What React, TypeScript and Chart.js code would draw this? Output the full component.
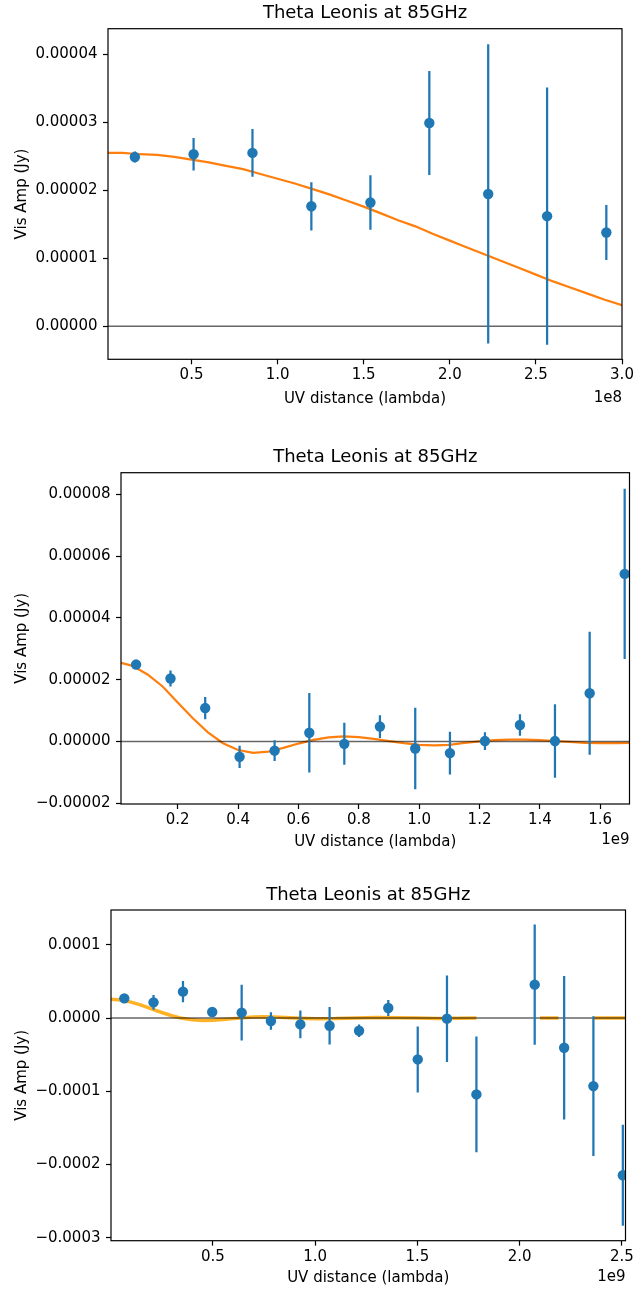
import React, { useEffect, useRef } from "react";
import { Chart, registerables } from "chart.js";

Chart.register(...registerables);

const FONT = '"DejaVu Sans", "Liberation Sans", sans-serif';
const BLUE = "#1f77b4";
const ORANGE = "#ff7f0e";
const ORANGE_LIGHT = "rgba(255,165,0,0.85)";
const ZERO_COLOR = "rgba(0,0,0,0.6)";

const TITLE = "Theta Leonis at 85GHz";
const X_TITLE = "UV distance (lambda)";
const Y_TITLE = "Vis Amp (Jy)";

// ---------- Panel 1 (x in units of 1e8 lambda) ----------
const P1_X = [0.171, 0.512, 0.854, 1.196, 1.539, 1.881, 2.223, 2.565, 2.909];
const P1_Y = [2.49e-5, 2.53e-5, 2.55e-5, 1.765e-5, 1.82e-5, 2.99e-5, 1.946e-5, 1.62e-5, 1.38e-5];
const P1_ERR = [0.08e-5, 0.24e-5, 0.35e-5, 0.355e-5, 0.4e-5, 0.765e-5, 2.2e-5, 1.89e-5, 0.405e-5];
const P1_MODEL_X = [0.015, 0.1, 0.2, 0.3, 0.4, 0.5, 0.6, 0.7, 0.8, 0.9, 1.0, 1.1, 1.2, 1.3, 1.4, 1.5, 1.6, 1.7, 1.8, 1.9, 2.0, 2.1, 2.2, 2.3, 2.4, 2.5, 2.6, 2.7, 2.8, 2.9, 3.0];
const P1_MODEL_Y = [2.55e-5, 2.55e-5, 2.53e-5, 2.52e-5, 2.49e-5, 2.45e-5, 2.41e-5, 2.36e-5, 2.31e-5, 2.24e-5, 2.17e-5, 2.1e-5, 2.02e-5, 1.94e-5, 1.85e-5, 1.76e-5, 1.66e-5, 1.56e-5, 1.47e-5, 1.36e-5, 1.26e-5, 1.16e-5, 1.06e-5, 0.96e-5, 0.86e-5, 0.76e-5, 0.66e-5, 0.57e-5, 0.48e-5, 0.39e-5, 0.31e-5];
const P1_X_TICKS = [0.5, 1.0, 1.5, 2.0, 2.5, 3.0];
const P1_X_LABELS = ["0.5", "1.0", "1.5", "2.0", "2.5", "3.0"];
const P1_Y_TICKS = [0, 1e-5, 2e-5, 3e-5, 4e-5];
const P1_Y_LABELS = ["0.00000", "0.00001", "0.00002", "0.00003", "0.00004"];

// ---------- Panel 2 (x in units of 1e9 lambda) ----------
const P2_X = [0.062, 0.176, 0.291, 0.405, 0.521, 0.636, 0.752, 0.87, 0.987, 1.102, 1.218, 1.334, 1.45, 1.565, 1.681];
const P2_Y = [2.49e-5, 2.04e-5, 1.08e-5, -0.5e-5, -0.3e-5, 0.28e-5, -0.08e-5, 0.48e-5, -0.23e-5, -0.38e-5, 0.01e-5, 0.53e-5, 0.01e-5, 1.56e-5, 5.43e-5];
const P2_ERR = [0.08e-5, 0.26e-5, 0.36e-5, 0.36e-5, 0.34e-5, 1.29e-5, 0.68e-5, 0.37e-5, 1.32e-5, 0.69e-5, 0.29e-5, 0.35e-5, 1.19e-5, 1.99e-5, 2.76e-5];
const P2_MODEL_X = [0.012, 0.05, 0.1, 0.15, 0.2, 0.25, 0.3, 0.35, 0.4, 0.45, 0.5, 0.55, 0.6, 0.65, 0.7, 0.75, 0.8, 0.85, 0.9, 0.95, 1.0, 1.05, 1.1, 1.15, 1.2, 1.25, 1.3, 1.35, 1.4, 1.45, 1.5, 1.55, 1.6, 1.65, 1.697];
const P2_MODEL_Y = [2.55e-5, 2.45e-5, 2.17e-5, 1.78e-5, 1.26e-5, 0.75e-5, 0.29e-5, -0.06e-5, -0.28e-5, -0.37e-5, -0.33e-5, -0.21e-5, -0.07e-5, 0.05e-5, 0.13e-5, 0.16e-5, 0.14e-5, 0.08e-5, 0.01e-5, -0.06e-5, -0.11e-5, -0.13e-5, -0.11e-5, -0.05e-5, 0.0, 0.04e-5, 0.06e-5, 0.06e-5, 0.04e-5, 0.01e-5, -0.02e-5, -0.05e-5, -0.06e-5, -0.06e-5, -0.05e-5];
const P2_X_TICKS = [0.2, 0.4, 0.6, 0.8, 1.0, 1.2, 1.4, 1.6];
const P2_X_LABELS = ["0.2", "0.4", "0.6", "0.8", "1.0", "1.2", "1.4", "1.6"];
const P2_Y_TICKS = [-2e-5, 0, 2e-5, 4e-5, 6e-5, 8e-5];
const P2_Y_LABELS = ["\u22120.00002", "0.00000", "0.00002", "0.00004", "0.00006", "0.00008"];

// ---------- Panel 3 (x in units of 1e9 lambda) ----------
const P3_X = [0.067, 0.21, 0.354, 0.497, 0.641, 0.784, 0.928, 1.071, 1.215, 1.358, 1.502, 1.645, 1.789, 2.074, 2.218, 2.361, 2.505];
const P3_Y = [0.269e-4, 0.214e-4, 0.36e-4, 0.082e-4, 0.073e-4, -0.041e-4, -0.087e-4, -0.105e-4, -0.173e-4, 0.137e-4, -0.565e-4, -0.009e-4, -1.043e-4, 0.456e-4, -0.405e-4, -0.929e-4, -2.146e-4];
const P3_ERR = [0.03e-4, 0.1e-4, 0.146e-4, 0.05e-4, 0.38e-4, 0.12e-4, 0.19e-4, 0.255e-4, 0.085e-4, 0.11e-4, 0.45e-4, 0.59e-4, 0.79e-4, 0.82e-4, 0.98e-4, 0.955e-4, 0.69e-4];
const P3_MODEL_X = [0.002, 0.05, 0.1, 0.15, 0.2, 0.25, 0.3, 0.35, 0.4, 0.45, 0.5, 0.55, 0.6, 0.65, 0.7, 0.75, 0.8, 0.9, 1.0, 1.1, 1.2, 1.3, 1.4, 1.5, 1.6, 1.7, 1.789, 1.95, 2.1, 2.145, 2.19, 2.28, 2.364, 2.44, 2.518];
const P3_MODEL_Y: (number | null)[] = [2.55e-5, 2.45e-5, 2.17e-5, 1.76e-5, 1.26e-5, 0.76e-5, 0.31e-5, -0.04e-5, -0.25e-5, -0.34e-5, -0.31e-5, -0.21e-5, -0.08e-5, 0.05e-5, 0.13e-5, 0.16e-5, 0.14e-5, 0.02e-5, -0.09e-5, -0.08e-5, 0.0, 0.07e-5, 0.05e-5, -0.01e-5, -0.05e-5, -0.03e-5, 0.01e-5, null, 0.0, 0.01e-5, 0.0, null, 0.01e-5, 0.0, -0.01e-5];
const P3_X_TICKS = [0.5, 1.0, 1.5, 2.0, 2.5];
const P3_X_LABELS = ["0.5", "1.0", "1.5", "2.0", "2.5"];
const P3_Y_TICKS = [-3e-4, -2e-4, -1e-4, 0, 1e-4];
const P3_Y_LABELS = ["\u22120.0003", "\u22120.0002", "\u22120.0001", "0.0000", "0.0001"];

const W = 636;
const Y_AXIS_W = 100;
const X_AXIS_H = 30;

interface Spec {
  top: number;
  height: number;
  area: { left: number; right: number; top: number; bottom: number };
  xMin: number; xMax: number; yMin: number; yMax: number;
  xTicks: number[]; xLabels: string[];
  yTicks: number[]; yLabels: string[];
  offsetText: string;
  px: number[]; py: number[]; perr: number[];
  mx: number[]; my: (number | null)[];
  modelColor: string; modelWidth: number;
  titleY: number; xTitleY: number; offsetY: number; yTitleX: number;
}

const SPECS: Spec[] = [
  {
    top: 0, height: 430,
    area: { left: 108, right: 622, top: 28.7, bottom: 359.3 },
    xMin: 0.015, xMax: 3.0, yMin: -0.485e-5, yMax: 4.376e-5,
    xTicks: P1_X_TICKS, xLabels: P1_X_LABELS, yTicks: P1_Y_TICKS, yLabels: P1_Y_LABELS,
    offsetText: "1e8",
    px: P1_X, py: P1_Y, perr: P1_ERR, mx: P1_MODEL_X, my: P1_MODEL_Y,
    modelColor: ORANGE, modelWidth: 2.25,
    titleY: 13.3, xTitleY: 399, offsetY: 398, yTitleX: 22,
  },
  {
    top: 430, height: 430,
    area: { left: 121, right: 629.5, top: 42.7, bottom: 374 },
    xMin: 0.012, xMax: 1.697, yMin: -2.03e-5, yMax: 8.71e-5,
    xTicks: P2_X_TICKS, xLabels: P2_X_LABELS, yTicks: P2_Y_TICKS, yLabels: P2_Y_LABELS,
    offsetText: "1e9",
    px: P2_X, py: P2_Y, perr: P2_ERR, mx: P2_MODEL_X, my: P2_MODEL_Y,
    modelColor: ORANGE, modelWidth: 2.25,
    titleY: 27.3, xTitleY: 411.7, offsetY: 410, yTitleX: 22,
  },
  {
    top: 860, height: 429,
    area: { left: 111, right: 625.5, top: 50, bottom: 380.7 },
    xMin: 0.002, xMax: 2.518, yMin: -3.04e-4, yMax: 1.475e-4,
    xTicks: P3_X_TICKS, xLabels: P3_X_LABELS, yTicks: P3_Y_TICKS, yLabels: P3_Y_LABELS,
    offsetText: "1e9",
    px: P3_X, py: P3_Y, perr: P3_ERR, mx: P3_MODEL_X, my: P3_MODEL_Y,
    modelColor: ORANGE_LIGHT, modelWidth: 3.5,
    titleY: 35, xTitleY: 418, offsetY: 417, yTitleX: 22,
  },
];

function buildConfig(s: Spec): any {
  const decor = {
    id: "decor",
    beforeDatasetDraw(chart: any, args: any) {
      if (args.index !== 2) return;
      const { ctx, chartArea: a, scales } = chart;
      ctx.save();
      ctx.beginPath();
      ctx.rect(a.left, a.top, a.right - a.left, a.bottom - a.top);
      ctx.clip();
      ctx.strokeStyle = BLUE;
      ctx.lineWidth = 2.25;
      s.px.forEach((x, i) => {
        const xp = scales.x.getPixelForValue(x);
        const y1 = scales.y.getPixelForValue(s.py[i] - s.perr[i]);
        const y2 = scales.y.getPixelForValue(s.py[i] + s.perr[i]);
        ctx.beginPath();
        ctx.moveTo(xp, y1);
        ctx.lineTo(xp, y2);
        ctx.stroke();
      });
      ctx.restore();
    },
    afterDraw(chart: any) {
      const { ctx, chartArea: a } = chart;
      ctx.save();
      ctx.strokeStyle = "#000";
      ctx.lineWidth = 1.2;
      ctx.strokeRect(a.left, a.top, a.right - a.left, a.bottom - a.top);
      ctx.fillStyle = "#000";
      const cx = (a.left + a.right) / 2;
      ctx.textBaseline = "middle";
      ctx.textAlign = "center";
      ctx.font = `18px ${FONT}`;
      ctx.fillText(TITLE, cx, s.titleY);
      ctx.font = `15px ${FONT}`;
      ctx.fillText(X_TITLE, cx, s.xTitleY);
      ctx.textAlign = "right";
      ctx.fillText(s.offsetText, a.right, s.offsetY);
      ctx.translate(s.yTitleX, (a.top + a.bottom) / 2);
      ctx.rotate(-Math.PI / 2);
      ctx.textAlign = "center";
      ctx.fillText(Y_TITLE, 0, 0);
      ctx.restore();
    },
  };

  return {
    type: "scatter",
    data: {
      datasets: [
        {
          data: s.mx.map((x, i) => ({ x, y: s.my[i] })),
          showLine: true,
          spanGaps: false,
          borderColor: s.modelColor,
          borderWidth: s.modelWidth,
          pointRadius: 0,
          tension: 0,
          order: 3,
        },
        {
          data: [{ x: s.xMin, y: 0 }, { x: s.xMax, y: 0 }],
          showLine: true,
          borderColor: ZERO_COLOR,
          borderWidth: 1.5,
          pointRadius: 0,
          order: 2,
        },
        {
          data: s.px.map((x, i) => ({ x, y: s.py[i] })),
          showLine: false,
          pointRadius: 5.2,
          pointBackgroundColor: BLUE,
          pointBorderWidth: 0,
          borderColor: BLUE,
          order: 1,
        },
      ],
    },
    options: {
      animation: false,
      responsive: false,
      devicePixelRatio: 1,
      events: [],
      layout: {
        autoPadding: false,
        padding: {
          left: s.area.left - Y_AXIS_W,
          right: W - s.area.right,
          top: s.area.top,
          bottom: s.height - s.area.bottom - X_AXIS_H,
        },
      },
      plugins: { legend: { display: false }, tooltip: { enabled: false }, title: { display: false } },
      scales: {
        x: {
          type: "linear",
          min: s.xMin,
          max: s.xMax,
          afterBuildTicks: (sc: any) => { sc.ticks = s.xTicks.map((v) => ({ value: v })); },
          afterFit: (sc: any) => { sc.height = X_AXIS_H; sc.paddingLeft = 0; sc.paddingRight = 0; },
          ticks: {
            autoSkip: false, maxRotation: 0, minRotation: 0, color: "#000", padding: 2,
            font: { family: FONT, size: 15 },
            callback: (_v: any, i: number) => s.xLabels[i],
          },
          grid: { display: true, drawOnChartArea: false, drawTicks: true, tickLength: 5, tickWidth: 1.2, tickColor: "#000" },
          border: { display: false },
        },
        y: {
          type: "linear",
          min: s.yMin,
          max: s.yMax,
          afterBuildTicks: (sc: any) => { sc.ticks = s.yTicks.map((v) => ({ value: v })); },
          afterFit: (sc: any) => { sc.width = Y_AXIS_W; sc.paddingTop = 0; sc.paddingBottom = 0; },
          ticks: {
            autoSkip: false, color: "#000", padding: 5.5,
            font: { family: FONT, size: 15 },
            callback: (_v: any, i: number) => s.yLabels[i],
          },
          grid: { display: true, drawOnChartArea: false, drawTicks: true, tickLength: 5, tickWidth: 1.2, tickColor: "#000" },
          border: { display: false },
        },
      },
    },
    plugins: [decor],
  };
}

function Panel({ spec }: { spec: Spec }) {
  const ref = useRef<HTMLCanvasElement>(null);
  useEffect(() => {
    if (!ref.current) return;
    const chart = new Chart(ref.current, buildConfig(spec));
    return () => chart.destroy();
  }, [spec]);
  return (
    <canvas
      ref={ref}
      width={W}
      height={spec.height}
      style={{ position: "absolute", left: 0, top: spec.top, width: W, height: spec.height }}
    />
  );
}

export default function App() {
  return (
    <div style={{ position: "absolute", left: 0, top: 0, width: W, height: 1289, background: "#fff" }}>
      {SPECS.map((s, i) => (
        <Panel key={i} spec={s} />
      ))}
    </div>
  );
}
